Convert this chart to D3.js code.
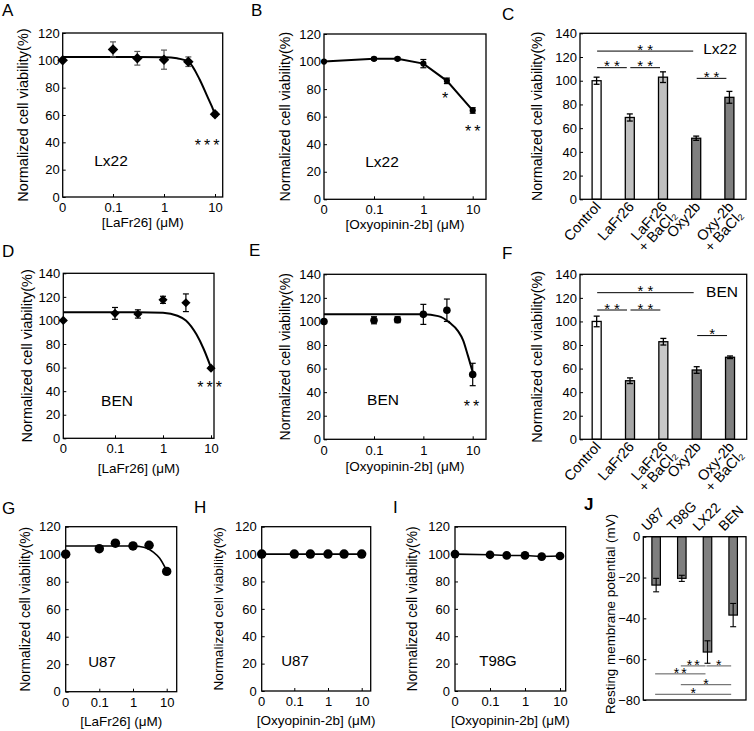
<!DOCTYPE html>
<html>
<head>
<meta charset="utf-8">
<script src="https://cdn.jsdelivr.net/npm/d3@7"></script>
<style>
body { margin: 0; background: #fff; }
svg { font-family: Arial, "Liberation Sans", sans-serif; }
</style>
</head>
<body>
<script>
// ---- data ----
var doses = [0, 0.1, 0.3, 1, 3, 10];
var doseTicks = [0.1, 1, 10];

// A  Lx22, LaFr26
var aMean = [100, 108, 101.5, 100.5, 99, 60.5];
var aErr = [0, 5.5, 5, 7, 3.5, 1.5];
var aFitX = [0, 0.1, 0.3, 1, 1.8, 3, 5, 7, 8.5, 10];
var aFitY = [102.5, 102.5, 102.5, 102.3, 101.5, 99, 86, 74, 67, 60.5];
var aStars = [[7, 40.5, '***']];

// B  Lx22, Oxyopinin-2b (points joined)
var bMean = [100, 102, 102, 98.5, 86, 64.5];
var bErr = [0, 1, 1, 3, 2, 2];
var bStars = [[2.75, 75.6, '*'], [10, 51.6, '**']];

// C  Lx22 bars
var barCats = ['Control', 'LaFr26', 'LaFr26\n+ BaCl\u2082', 'Oxy2b', 'Oxy-2b\n+ BaCl\u2082'];
var cMean = [100, 69, 103, 51.5, 86];
var cErr = [3, 3, 4.5, 1.8, 5];
var cSig = [[0, 3, 125, '**'], [0, 1, 111, '**'], [1, 2, 111, '**'], [3, 4, 102, '**']];

// D  BEN, LaFr26
var dMean = [100, 106, 105.5, 117.5, 115, 59.5];
var dErr = [0, 5, 3.5, 3, 7.5, 1];
var dFitX = [0, 0.1, 0.3, 1, 2, 3, 5, 7, 10];
var dFitY = [107, 107, 107, 106.5, 104, 100, 88, 76, 60];
var dStars = [[9.4, 46, '***']];

// E  BEN, Oxyopinin-2b
var eMean = [100, 101, 101.5, 106, 109.5, 55];
var eErr = [0, 3, 2.5, 8.5, 9.5, 9.5];
var eFitX = [0, 0.1, 0.3, 1, 2, 3.4, 5, 6.4, 8, 10];
var eFitY = [106, 106, 106, 106, 104.5, 99, 92, 84, 71, 57];
var eStars = [[9.5, 31, '**']];

// F  BEN bars
var fMean = [100, 49.7, 82.8, 58.8, 69.6];
var fErr = [4.5, 2.4, 2.8, 2.8, 1.1];
var fSig = [[0, 3, 124.4, '**'], [0, 1, 109.7, '**'], [1, 2, 109.7, '**'], [3, 4, 88, '*']];

// G  U87, LaFr26
var gMean = [100, 104, 108, 106, 106.5, 87.5];
var gFitX = [0, 0.1, 0.3, 1, 1.5, 2.5, 4, 6.2, 10];
var gFitY = [106, 106, 106, 106, 105.7, 104.5, 101.5, 97, 88];

// H  U87, Oxyopinin-2b
var hMean = [100, 100, 100, 100, 100, 100];
// I  T98G, Oxyopinin-2b
var iMean = [100, 99.5, 99, 99, 98.2, 98.6];

// J  resting membrane potential
var jCats = ['U87', 'T98G', 'LX22', 'BEN'];
var jMean = [-23.7, -20.4, -56.5, -38.4];
var jErr = [3.3, 1.5, 5.5, 5.7];
var jSig = [[1, 2, -63.3, '**'], [2, 3, -63.3, '*'], [0, 2, -67.2, '**'], [1, 3, -72.5, '*'], [0, 3, -77.2, '*']];

var yLabel = 'Normalized cell viability(%)';

var svg = d3.select('body').append('svg')
    .attr('width', 754)
    .attr('height', 731);

function styleAxis(g, fs) {
    g.select('.domain').remove();
    g.selectAll('text').attr('font-size', fs).attr('font-family', 'Arial, "Liberation Sans", sans-serif').attr('fill', '#000');
    g.selectAll('line').attr('stroke', '#000');
}

function stars(g, x, cy, txt, fs, ls) {
    g.append('text')
        .attr('x', x + ls / 2)
        .attr('y', cy + 0.57 * fs)
        .attr('text-anchor', 'middle')
        .attr('font-size', fs)
        .attr('letter-spacing', ls)
        .text(txt);
}

function frame(p, y) {
    var g = svg.append('g');
    g.append('text')
        .attr('x', p.lx).attr('y', p.ly)
        .attr('font-size', p.letterFs || 17)
        .attr('font-weight', p.letterBold ? 'bold' : null)
        .text(p.letter);
    g.append('text')
        .attr('transform', 'translate(' + p.ylabX + ',' + (p.ylabY || (p.T + p.B) / 2) + ') rotate(-90)')
        .attr('text-anchor', 'middle')
        .attr('dy', '0.35em')
        .attr('font-size', p.ylabFs)
        .text(p.ylab || yLabel);
    var ya = g.append('g')
        .attr('transform', 'translate(' + p.L + ',0)')
        .call(d3.axisLeft(y).tickValues(p.yTicks).tickSizeInner(-3).tickSizeOuter(0).tickPadding(p.yPad || 3));
    styleAxis(ya, 13);
    return g;
}

function box(g, p) {
    g.append('rect')
        .attr('x', p.L).attr('y', p.T)
        .attr('width', p.R - p.L).attr('height', p.B - p.T)
        .attr('fill', 'none')
        .attr('stroke', '#000')
        .attr('stroke-width', 1.3);
}

function dosePanel(p, mean, err, fitX, fitY, starList) {
    var y = d3.scaleLinear().domain([0, p.ymax]).range([p.B, p.T]);
    var log = d3.scaleLog().domain([0.1, 10]).range([p.x01, p.x10]);
    var x = function (v) { return v === 0 ? p.L : log(v); };
    var g = frame(p, y);

    var xa = g.append('g')
        .attr('transform', 'translate(0,' + p.B + ')')
        .call(d3.axisBottom(log).tickValues(doseTicks).tickSizeInner(-3).tickSizeOuter(0)
            .tickPadding(p.tickY - 0.71 * 13).tickFormat(function (d) { return String(d); }));
    styleAxis(xa, 13);
    g.append('text')
        .attr('x', p.L).attr('y', p.B + p.tickY)
        .attr('text-anchor', 'middle')
        .attr('font-size', 13)
        .text('0');
    g.append('text')
        .attr('x', p.xlabX || (p.L + p.R) / 2).attr('y', p.B + p.xlabY)
        .attr('text-anchor', 'middle')
        .attr('font-size', 13.5)
        .text(p.xlab);

    // curve or joined points
    var line = d3.line()
        .x(function (d) { return x(d[0]); })
        .y(function (d) { return y(d[1]); });
    var pts;
    if (fitX) {
        line.curve(d3.curveMonotoneX);
        pts = d3.zip(fitX, fitY);
    } else {
        pts = d3.zip(doses, mean);
    }
    g.append('path')
        .attr('d', line(pts))
        .attr('fill', 'none')
        .attr('stroke', '#000')
        .attr('stroke-width', p.lineW || 2);

    // error bars
    if (err) {
        var eb = g.selectAll('.eb').data(d3.zip(doses, mean, err).filter(function (d) { return d[2] > 0; }))
            .enter().append('g').attr('stroke', p.errColor || '#000').attr('stroke-width', 1.2);
        eb.append('line')
            .attr('x1', function (d) { return x(d[0]); }).attr('x2', function (d) { return x(d[0]); })
            .attr('y1', function (d) { return y(d[1] - d[2]); }).attr('y2', function (d) { return y(d[1] + d[2]); });
        [1, -1].forEach(function (s) {
            eb.append('line')
                .attr('x1', function (d) { return x(d[0]) - 3; }).attr('x2', function (d) { return x(d[0]) + 3; })
                .attr('y1', function (d) { return y(d[1] + s * d[2]); }).attr('y2', function (d) { return y(d[1] + s * d[2]); });
        });
    }

    // markers
    var sym = p.marker === 'diamond' ? d3.symbolSquare : d3.symbolCircle;
    g.selectAll('.pt').data(d3.zip(doses, mean)).enter().append('path')
        .attr('d', d3.symbol().type(sym).size(p.msize))
        .attr('transform', function (d) {
            return 'translate(' + x(d[0]) + ',' + y(d[1]) + ')' + (p.marker === 'diamond' ? ' rotate(45)' : '');
        })
        .attr('fill', '#000');

    box(g, p);

    g.append('text')
        .attr('x', p.cellX).attr('y', p.cellY)
        .attr('text-anchor', 'middle')
        .attr('font-size', p.cellFs || 15.5)
        .text(p.cell);

    (starList || []).forEach(function (s) {
        stars(g, x(s[0]), y(s[1]), s[2], p.starFs || 16, p.starLs || 3);
    });
}

function barPanel(p, mean, err, colors, sig) {
    var y = d3.scaleLinear().domain([0, 140]).range([p.B, p.T]);
    var x = d3.scalePoint().domain(barCats).range([p.L, p.R]).padding(0.5);
    var g = frame(p, y);
    var bw = 9;

    var bars = g.selectAll('.bar').data(d3.zip(barCats, mean, err, colors)).enter().append('g');
    bars.append('rect')
        .attr('x', function (d) { return x(d[0]) - bw / 2; })
        .attr('y', function (d) { return y(d[1]); })
        .attr('width', bw)
        .attr('height', function (d) { return p.B - y(d[1]); })
        .attr('fill', function (d) { return d[3]; })
        .attr('stroke', '#000')
        .attr('stroke-width', 1.3);
    bars.append('line')
        .attr('x1', function (d) { return x(d[0]); }).attr('x2', function (d) { return x(d[0]); })
        .attr('y1', function (d) { return y(d[1] - d[2]); }).attr('y2', function (d) { return y(d[1] + d[2]); })
        .attr('stroke', '#000').attr('stroke-width', 1.3);
    [1, -1].forEach(function (s) {
        bars.append('line')
            .attr('x1', function (d) { return x(d[0]) - 3; }).attr('x2', function (d) { return x(d[0]) + 3; })
            .attr('y1', function (d) { return y(d[1] + s * d[2]); }).attr('y2', function (d) { return y(d[1] + s * d[2]); })
            .attr('stroke', '#000').attr('stroke-width', 1.3);
    });

    box(g, p);

    // category labels, rotated
    barCats.forEach(function (c) {
        var t = g.append('text')
            .attr('transform', 'translate(' + (x(c) + 5) + ',' + (p.B + 8) + ') rotate(-48)')
            .attr('text-anchor', 'end')
            .attr('font-size', 14.5);
        c.split('\n').forEach(function (s, i) {
            t.append('tspan').attr('x', 0).attr('dy', i ? '0.9em' : 0).text(s);
        });
    });

    sig.forEach(function (s) {
        var x1 = x(barCats[s[0]]) + 0.5, x2 = x(barCats[s[1]]) - 3;
        g.append('line')
            .attr('x1', x1).attr('x2', x2)
            .attr('y1', y(s[2])).attr('y2', y(s[2]))
            .attr('stroke', '#000').attr('stroke-width', 1);
        stars(g, (x1 + x2) / 2, y(s[2]) - 5, s[3], 15, 4);
    });

    g.append('text')
        .attr('x', p.cellX).attr('y', p.cellY)
        .attr('text-anchor', 'middle')
        .attr('font-size', 15.5)
        .text(p.cell);
}

function membranePanel(p) {
    var y = d3.scaleLinear().domain([-80, 0]).range([p.B, p.T]);
    var x = d3.scalePoint().domain(jCats).range([p.L, p.R]).padding(0.5);
    var g = frame(p, y);
    var bw = 8.5;

    var bars = g.selectAll('.bar').data(d3.zip(jCats, jMean, jErr)).enter().append('g');
    bars.append('rect')
        .attr('x', function (d) { return x(d[0]) - bw / 2; })
        .attr('y', p.T)
        .attr('width', bw)
        .attr('height', function (d) { return y(d[1]) - p.T; })
        .attr('fill', '#7f7f7f')
        .attr('stroke', '#000')
        .attr('stroke-width', 1.2);
    bars.append('line')
        .attr('x1', function (d) { return x(d[0]); }).attr('x2', function (d) { return x(d[0]); })
        .attr('y1', function (d) { return y(d[1] - d[2]); }).attr('y2', function (d) { return y(d[1] + d[2]); })
        .attr('stroke', '#000').attr('stroke-width', 1.1);
    [1, -1].forEach(function (s) {
        bars.append('line')
            .attr('x1', function (d) { return x(d[0]) - 3; }).attr('x2', function (d) { return x(d[0]) + 3; })
            .attr('y1', function (d) { return y(d[1] + s * d[2]); }).attr('y2', function (d) { return y(d[1] + s * d[2]); })
            .attr('stroke', '#000').attr('stroke-width', 1.1);
    });

    box(g, p);

    jCats.forEach(function (c) {
        g.append('text')
            .attr('transform', 'translate(' + (x(c) - 9) + ',' + (p.T - 5) + ') rotate(-45)')
            .attr('font-size', 14)
            .text(c);
    });

    jSig.forEach(function (s) {
        var x1 = x(jCats[s[0]]) - 1, x2 = x(jCats[s[1]]) - 2;
        g.append('line')
            .attr('x1', x1).attr('x2', x2)
            .attr('y1', y(s[2])).attr('y2', y(s[2]))
            .attr('stroke', '#444').attr('stroke-width', 0.9);
        stars(g, (x1 + x2) / 2, y(s[2]) - 4, s[3], 14, 2);
    });
}

// ---- panels ----
dosePanel({L: 62.7, R: 222.7, T: 33, B: 197, ymax: 120, yTicks: d3.range(0, 121, 20), x01: 113, x10: 215,
    letter: 'A', lx: 2, ly: 16, ylabX: 23, ylabFs: 14.5, tickY: 15, xlabY: 30, xlab: '[LaFr26] (\u03bcM)',
    marker: 'diamond', msize: 55, errColor: '#555', cell: 'Lx22', cellX: 111, cellY: 166}, aMean, aErr, aFitX, aFitY, aStars);

dosePanel({L: 324, R: 486, T: 34, B: 199.3, ymax: 120, yTicks: d3.range(0, 121, 20), x01: 374, x10: 472.7,
    letter: 'B', lx: 251, ly: 16, ylabX: 285, ylabFs: 14.2, tickY: 15, xlabY: 30, xlab: '[Oxyopinin-2b] (\u03bcM)',
    marker: 'circle', msize: 30, cell: 'Lx22', cellX: 382, cellY: 167, starFs: 16, starLs: 3}, bMean, bErr, null, null, bStars);

barPanel({L: 580, R: 746, T: 33.3, B: 199.3, yTicks: d3.range(0, 141, 20),
    letter: 'C', lx: 502, ly: 20, ylabX: 537, ylabFs: 14.2, cell: 'Lx22', cellX: 720, cellY: 54},
    cMean, cErr, ['#ffffff', '#c0c0c0', '#c0c0c0', '#7f7f7f', '#7f7f7f'], cSig);

dosePanel({L: 63.3, R: 214, T: 273.3, B: 438.3, ymax: 140, yTicks: d3.range(0, 141, 20), x01: 115, x10: 211,
    letter: 'D', lx: 2, ly: 257, ylabX: 26.7, ylabFs: 14.5, tickY: 15, xlabY: 35, xlab: '[LaFr26] (\u03bcM)',
    marker: 'diamond', msize: 42, cell: 'BEN', cellX: 117, cellY: 406}, dMean, dErr, dFitX, dFitY, dStars);

dosePanel({L: 324, R: 486, T: 274.3, B: 439.3, ymax: 140, yTicks: d3.range(0, 141, 20), x01: 374, x10: 472.7,
    letter: 'E', lx: 249, ly: 256, ylabX: 285, ylabFs: 14, tickY: 16, xlabY: 32, xlab: '[Oxyopinin-2b] (\u03bcM)',
    marker: 'circle', msize: 45, cell: 'BEN', cellX: 383, cellY: 405}, eMean, eErr, eFitX, eFitY, eStars);

barPanel({L: 580, R: 746.7, T: 274.3, B: 439.3, yTicks: d3.range(0, 141, 20),
    letter: 'F', lx: 502, ly: 259, ylabX: 537, ylabFs: 14.4, cell: 'BEN', cellX: 722, cellY: 297},
    fMean, fErr, ['#ffffff', '#a6a6a6', '#c8c8c8', '#7f7f7f', '#7f7f7f'], fSig);

dosePanel({L: 65.7, R: 176.7, T: 526.7, B: 691.7, ymax: 120, yTicks: d3.range(0, 121, 20), x01: 99.3, x10: 166.7,
    letter: 'G', lx: 2, ly: 514, ylabX: 25, ylabFs: 13.8, yPad: 5, tickY: 15, xlabY: 34, xlab: '[LaFr26] (\u03bcM)',
    marker: 'circle', msize: 70, lineW: 1.6, cell: 'U87', cellX: 102, cellY: 667, cellFs: 15}, gMean, null, gFitX, gFitY, null);

dosePanel({L: 261.7, R: 370.7, T: 526.7, B: 691, ymax: 120, yTicks: d3.range(0, 121, 20), x01: 294.3, x10: 361.7,
    letter: 'H', lx: 194, ly: 513, ylabX: 218, ylabFs: 13.7, yPad: 5, tickY: 15, xlabY: 34, xlab: '[Oxyopinin-2b] (\u03bcM)',
    marker: 'circle', msize: 70, lineW: 1.6, cell: 'U87', cellX: 295, cellY: 666, cellFs: 15}, hMean, null, null, null, null);

dosePanel({L: 455, R: 565.7, T: 526.7, B: 691, ymax: 120, yTicks: d3.range(0, 121, 20), x01: 490, x10: 560,
    letter: 'I', lx: 393, ly: 513, ylabX: 412, ylabFs: 13.8, yPad: 5, tickY: 15, xlabY: 34, xlab: '[Oxyopinin-2b] (\u03bcM)',
    marker: 'circle', msize: 60, lineW: 1.6, cell: 'T98G', cellX: 498, cellY: 666, cellFs: 15}, iMean, null, null, null, null);

membranePanel({L: 643.3, R: 746, T: 536.7, B: 700, yTicks: d3.range(-80, 1, 20),
    letter: 'J', lx: 584, ly: 510, letterBold: true, ylabX: 610, ylabY: 614, ylabFs: 13.4,
    ylab: 'Resting membrane potential (mV)'});
</script>
</body>
</html>
